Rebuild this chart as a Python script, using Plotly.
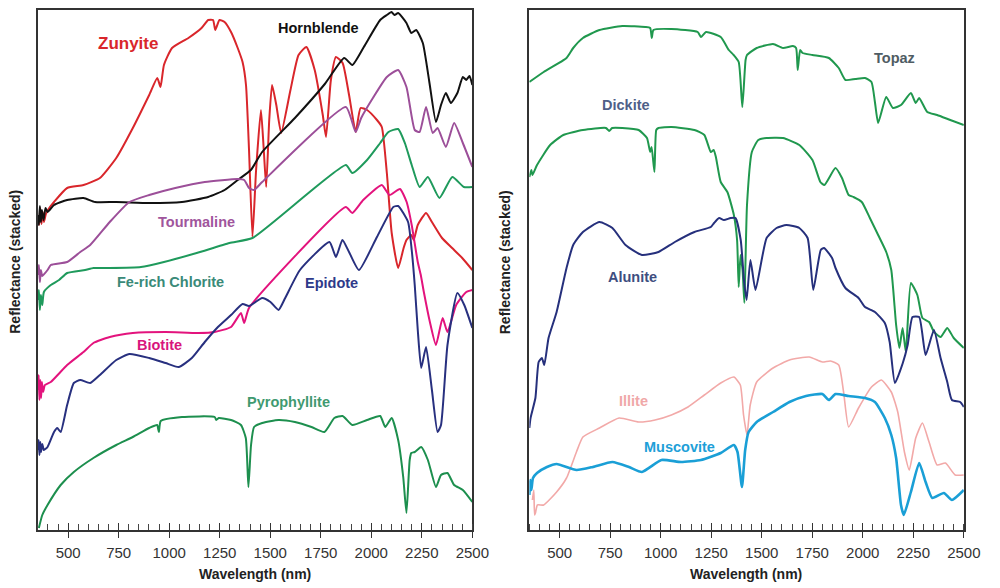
import plotly.graph_objects as go

# ---------------- data (wavelength nm, stacked reflectance, arbitrary units) ----------------
zunyite_nm = [350, 356, 362, 368, 374, 380, 390, 400, 430, 495, 576, 657, 738, 820, 901, 941, 957, 974, 1014, 1095,
              1160, 1193, 1217, 1228, 1249, 1274, 1306, 1339, 1363, 1380, 1395, 1412, 1430, 1454, 1468, 1480, 1495,
              1509, 1530, 1554, 1600, 1640, 1679, 1720, 1760, 1776, 1800, 1825, 1858, 1890, 1923, 1947, 1979, 2028,
              2052, 2077, 2101, 2133, 2160, 2174, 2198, 2210, 2230, 2271, 2300, 2350, 2400, 2450, 2500]
zunyite_r = [314, 305, 322, 306, 318, 308, 316, 320, 328, 342, 345, 352, 372, 402, 435, 452, 443, 465, 482, 492,
             502, 510, 510, 500, 510, 508, 498, 482, 468, 445, 380, 293, 360, 420, 380, 343, 410,
             445, 425, 397, 440, 475, 483, 460, 415, 393, 450, 473, 467, 435, 398, 422, 420, 410,
             403, 357, 297, 262, 282, 290, 295, 290, 305, 317, 308, 292, 282, 272, 260]

hornblende_nm = [350, 355, 360, 365, 370, 378, 388, 398, 430, 495, 576, 633, 738, 901, 1063, 1193, 1274, 1339, 1404,
                 1460, 1622, 1770, 1866, 1906, 1963, 2044, 2077, 2100, 2115, 2133, 2174, 2198, 2222, 2255, 2288, 2320,
                 2345, 2369, 2394, 2426, 2453, 2470, 2486, 2500]
hornblende_r = [315, 305, 324, 308, 320, 310, 322, 318, 325, 330, 332, 328, 328, 327, 328, 333, 340, 350, 360,
                378, 412, 446, 472, 465, 483, 510, 515, 518, 515, 517, 507, 497, 500, 487, 447, 408,
                425, 437, 427, 437, 453, 450, 454, 445]

tourmaline_nm = [350, 355, 360, 365, 372, 398, 414, 495, 560, 609, 706, 803, 901, 1030, 1176, 1339, 1371, 1395, 1420,
                 1460, 1874, 1923, 1950, 2011, 2077, 2133, 2174, 2215, 2239, 2271, 2304, 2328, 2369, 2410, 2453, 2500]
tourmaline_r = [255, 265, 248, 260, 254, 260, 265, 268, 278, 285, 308, 328, 335, 342, 348, 351, 350, 342, 340,
                348, 423, 398, 412, 433, 453, 460, 443, 400, 398, 423, 397, 402, 383, 407, 387, 363]

chlorite_nm = [350, 355, 360, 365, 372, 380, 414, 455, 495, 584, 625, 698, 860, 974, 1136, 1298, 1412, 1874, 1906,
               1979, 2044, 2085, 2133, 2166, 2200, 2239, 2280, 2337, 2401, 2458, 2500]
chlorite_r = [230, 240, 220, 235, 225, 238, 245, 250, 257, 260, 262, 262, 263, 268, 277, 287, 292, 365, 357,
              370, 387, 398, 401, 387, 365, 343, 353, 332, 353, 343, 343]

biotite_nm = [350, 354, 358, 362, 366, 370, 376, 385, 414, 495, 576, 625, 706, 820, 982, 1144, 1225, 1306, 1355,
              1371, 1395, 1874, 1906, 1960, 2052, 2090, 2142, 2175, 2200, 2230, 2245, 2260, 2290, 2320, 2353, 2377,
              2420, 2470, 2500]
biotite_r = [140, 155, 130, 150, 132, 148, 138, 145, 148, 165, 178, 187, 193, 197, 198, 197, 198, 203, 217,
             207, 222, 323, 317, 330, 345, 335, 341, 328, 305, 268, 255, 238, 208, 185, 212, 198,
             225, 238, 240]

epidote_nm = [350, 354, 358, 362, 366, 372, 380, 398, 430, 446, 463, 495, 528, 560, 609, 657, 738, 803, 901, 982,
              1047, 1112, 1176, 1241, 1306, 1363, 1395, 1460, 1501, 1541, 1574, 1647, 1793, 1825, 1857, 1890, 1939,
              2028, 2109, 2133, 2182, 2200, 2215, 2230, 2247, 2271, 2300, 2328, 2345, 2377, 2426, 2460, 2500]
epidote_r = [80, 90, 75, 88, 78, 86, 80, 83, 98, 102, 98, 125, 147, 150, 147, 155, 170, 176, 172, 167,
             163, 172, 188, 203, 215, 226, 224, 232, 228, 220, 232, 260, 288, 273, 290, 278, 260,
             293, 323, 324, 308, 280, 245, 200, 162, 183, 140, 98, 105, 185, 237, 225, 202]

pyrophyllite_nm = [355, 372, 398, 463, 528, 625, 738, 820, 901, 940, 949, 958, 1063, 1225, 1233, 1245, 1306, 1355,
                   1379, 1392, 1405, 1420, 1460, 1541, 1622, 1704, 1768, 1817, 1858, 1906, 1979, 2044, 2069, 2101,
                   2133, 2158, 2174, 2190, 2198, 2215, 2247, 2280, 2320, 2345, 2377, 2410, 2453, 2500]
pyrophyllite_r = [2, 15, 25, 45, 58, 72, 85, 93, 102, 105, 98, 109, 113, 113, 110, 112, 110, 105,
                  92, 43, 85, 103, 107, 110, 108, 103, 98, 112, 114, 105, 110, 114, 103, 112,
                  90, 53, 17, 70, 77, 78, 83, 70, 43, 55, 57, 45, 40, 28]

topaz_nm = [350, 421, 534, 567, 615, 697, 810, 924, 948, 956, 964, 1053, 1183, 1199, 1224, 1297, 1337, 1361, 1386,
            1404, 1420, 1427, 1475, 1556, 1605, 1654, 1670, 1678, 1690, 1702, 1751, 1832, 1881, 1914, 1963, 2011,
            2043, 2060, 2076, 2116, 2149, 2189, 2238, 2262, 2279, 2319, 2368, 2433, 2500]
topaz_r = [448, 458, 472, 482, 492, 500, 504, 503, 502, 492, 500, 501, 498, 493, 498, 493, 480, 475, 468,
           423, 470, 475, 482, 486, 482, 484, 482, 460, 480, 477, 475, 472, 462, 450, 451, 452,
           448, 428, 407, 433, 422, 425, 437, 427, 432, 418, 415, 410, 405]

dickite_nm = [350, 360, 365, 388, 453, 518, 615, 729, 745, 760, 810, 891, 932, 948, 955, 969, 978, 989, 1053, 1167,
              1216, 1248, 1262, 1273, 1297, 1330, 1362, 1378, 1386, 1395, 1405, 1414, 1427, 1451, 1483, 1524, 1605,
              1686, 1751, 1790, 1810, 1865, 1897, 1930, 1954, 1995, 2035, 2076, 2116, 2141, 2165, 2181, 2197, 2213,
              2238, 2270, 2295, 2328, 2353, 2385, 2418, 2450, 2500]
dickite_r = [353, 360, 355, 365, 385, 395, 400, 402, 399, 402, 402, 400, 392, 378, 383, 358, 400, 402, 403, 400,
             395, 378, 380, 373, 348, 338, 315, 290, 243, 275, 260, 227, 325, 378, 390, 392, 392,
             385, 370, 348, 345, 362, 352, 335, 333, 328, 312, 295, 278, 260, 205, 182, 202, 178,
             247, 235, 212, 208, 198, 193, 202, 192, 182]

alunite_nm = [350, 356, 380, 396, 412, 424, 445, 485, 534, 567, 615, 697, 761, 826, 907, 989, 1070, 1167, 1248,
              1264, 1289, 1313, 1346, 1370, 1396, 1412, 1425, 1444, 1469, 1524, 1573, 1622, 1686, 1727, 1755, 1792,
              1808, 1848, 1865, 1914, 1979, 2011, 2060, 2109, 2133, 2159, 2198, 2222, 2246, 2279, 2311, 2352, 2385,
              2418, 2441, 2482, 2500]
alunite_r = [102, 112, 132, 168, 172, 165, 192, 218, 262, 285, 298, 308, 302, 285, 275, 278, 288, 298, 303,
             307, 312, 310, 312, 312, 290, 250, 230, 270, 240, 292, 302, 305, 302, 292, 240, 280,
             282, 272, 262, 242, 232, 223, 218, 207, 188, 147, 167, 185, 213, 213, 175, 200, 172,
             148, 130, 128, 123]

illite_nm = [365, 372, 376, 380, 390, 421, 485, 534, 583, 615, 697, 794, 891, 972, 1053, 1135, 1216, 1297, 1362,
             1394, 1410, 1427, 1443, 1475, 1556, 1637, 1735, 1800, 1840, 1881, 1905, 1930, 1979, 2043, 2092, 2141,
             2173, 2206, 2230, 2262, 2295, 2328, 2368, 2409, 2457, 2500]
illite_r = [30, 40, 15, 17, 25, 25, 38, 52, 78, 93, 102, 112, 108, 110, 115, 123, 135, 147, 153,
            145, 115, 95, 125, 148, 162, 170, 173, 168, 169, 165, 138, 103, 122, 143, 150, 138,
            118, 78, 60, 92, 107, 88, 65, 67, 55, 55]

muscovite_nm = [350, 355, 360, 368, 388, 437, 485, 583, 664, 761, 843, 907, 1004, 1101, 1199, 1297, 1362, 1380,
                1402, 1418, 1435, 1475, 1556, 1637, 1719, 1800, 1832, 1865, 1930, 2011, 2060, 2109, 2141, 2165,
                2189, 2203, 2238, 2279, 2311, 2344, 2401, 2441, 2500]
muscovite_r = [35, 50, 40, 52, 57, 63, 66, 60, 63, 68, 63, 58, 70, 68, 70, 77, 85, 78,
               43, 80, 98, 108, 118, 128, 134, 136, 130, 136, 134, 132, 128, 112, 95, 72,
               25, 15, 38, 67, 48, 32, 37, 30, 40]

left_series = [
    ("Zunyite", zunyite_nm, zunyite_r, "#d9262b", 2),
    ("Hornblende", hornblende_nm, hornblende_r, "#111111", 2),
    ("Tourmaline", tourmaline_nm, tourmaline_r, "#9c4f99", 2),
    ("Fe-rich Chlorite", chlorite_nm, chlorite_r, "#1f9a5c", 2),
    ("Biotite", biotite_nm, biotite_r, "#e3137d", 2),
    ("Epidote", epidote_nm, epidote_r, "#28307f", 2),
    ("Pyrophyllite", pyrophyllite_nm, pyrophyllite_r, "#1d8f4e", 2),
]
right_series = [
    ("Topaz", topaz_nm, topaz_r, "#20984e", 2),
    ("Dickite", dickite_nm, dickite_r, "#20984e", 2),
    ("Alunite", alunite_nm, alunite_r, "#26307c", 2),
    ("Illite", illite_nm, illite_r, "#f2a9a8", 1.6),
    ("Muscovite", muscovite_nm, muscovite_r, "#1a9fd6", 2.6),
]

tick_vals = [500, 750, 1000, 1250, 1500, 1750, 2000, 2250, 2500]
tick_text = [str(v) for v in tick_vals]

FONT = "Liberation Sans, Arial, sans-serif"
W, H = 1000, 588

fig = go.Figure()
for name, xs, ys, col, lw in left_series:
    fig.add_trace(go.Scatter(x=xs, y=ys, mode="lines", name=name, xaxis="x", yaxis="y",
                             line=dict(color=col, width=lw, shape="spline", smoothing=0.5)))
for name, xs, ys, col, lw in right_series:
    fig.add_trace(go.Scatter(x=xs, y=ys, mode="lines", name=name, xaxis="x2", yaxis="y2",
                             line=dict(color=col, width=lw, shape="spline", smoothing=0.5)))
# invisible traces to anchor inner major-tick overlay axes
fig.add_trace(go.Scatter(x=[350], y=[0], mode="markers", marker=dict(opacity=0), xaxis="x3", yaxis="y",
                         hoverinfo="skip"))
fig.add_trace(go.Scatter(x=[350], y=[0], mode="markers", marker=dict(opacity=0), xaxis="x4", yaxis="y2",
                         hoverinfo="skip"))

ydom = [(H - 530) / H, (H - 10) / H]
xdom1 = [38.5 / W, 480.5 / W]
xdom2 = [538.5 / W, 980.5 / W]
frame = dict(showline=True, mirror=True, linecolor="#333333", linewidth=2, showgrid=False, zeroline=False)

def xax(dom, anchor):
    return dict(domain=dom, anchor=anchor, range=[350, 2500], tickmode="array", tickvals=tick_vals,
                ticktext=tick_text, ticks="outside", ticklen=6, tickwidth=1.3, tickcolor="#333333",
                ticklabelstandoff=2,
                tickfont=dict(family=FONT, size=15, color="#333333"),
                minor=dict(dtick=50, tick0=500, ticks="inside", ticklen=6, tickwidth=1.2, tickcolor="#444444",
                           showgrid=False),
                **frame)

def yax(anchor):
    return dict(domain=ydom, anchor=anchor, range=[0, 520], showticklabels=False, ticks="", **frame)

def xover(over):
    return dict(overlaying=over, anchor="y" if over == "x" else "y2", range=[350, 2500], tickmode="array",
                tickvals=tick_vals, ticks="inside", ticklen=7, tickwidth=1.3, tickcolor="#333333",
                showticklabels=False, showgrid=False, zeroline=False, showline=False, side="bottom")

fig.update_layout(
    width=W, height=H, margin=dict(l=0, r=0, t=0, b=0),
    paper_bgcolor="white", plot_bgcolor="white", showlegend=False,
    font=dict(family=FONT),
    xaxis=xax(xdom1, "y"), yaxis=yax("x"),
    xaxis2=xax(xdom2, "y2"), yaxis2=yax("x2"),
    xaxis3=xover("x"), xaxis4=xover("x2"),
)

def ann(text, px, py, color, size=14.5, angle=0):
    fig.add_annotation(text="<b>%s</b>" % text, x=px / W, y=1 - py / H, xref="paper", yref="paper",
                       showarrow=False, textangle=angle, xanchor="center", yanchor="middle",
                       font=dict(family=FONT, size=size, color=color))

# curve labels
ann("Zunyite", 130, 43, "#d9262b", 17)
ann("Hornblende", 324, 28, "#111111")
ann("Tourmaline", 200, 222, "#a0559c")
ann("Fe-rich Chlorite", 173, 282, "#3a8a78")
ann("Epidote", 337, 283, "#2e3a8a")
ann("Biotite", 162, 345, "#d8157c")
ann("Pyrophyllite", 293, 402, "#3f9a70")
ann("Topaz", 910, 58, "#4f5c63")
ann("Dickite", 637, 105, "#4f5f88")
ann("Alunite", 643, 277, "#3e4e80")
ann("Illite", 644, 401, "#f0a8a8")
ann("Muscovite", 691, 447, "#1ea0d8")

# axis titles
ann("Wavelength (nm)", 259, 574, "#222222", 14)
ann("Wavelength (nm)", 759, 574, "#222222", 14)
ann("Reflectance (stacked)", 15, 262, "#222222", 14, -90)
ann("Reflectance (stacked)", 514, 262, "#222222", 14, -90)

fig.write_html("out.html")
